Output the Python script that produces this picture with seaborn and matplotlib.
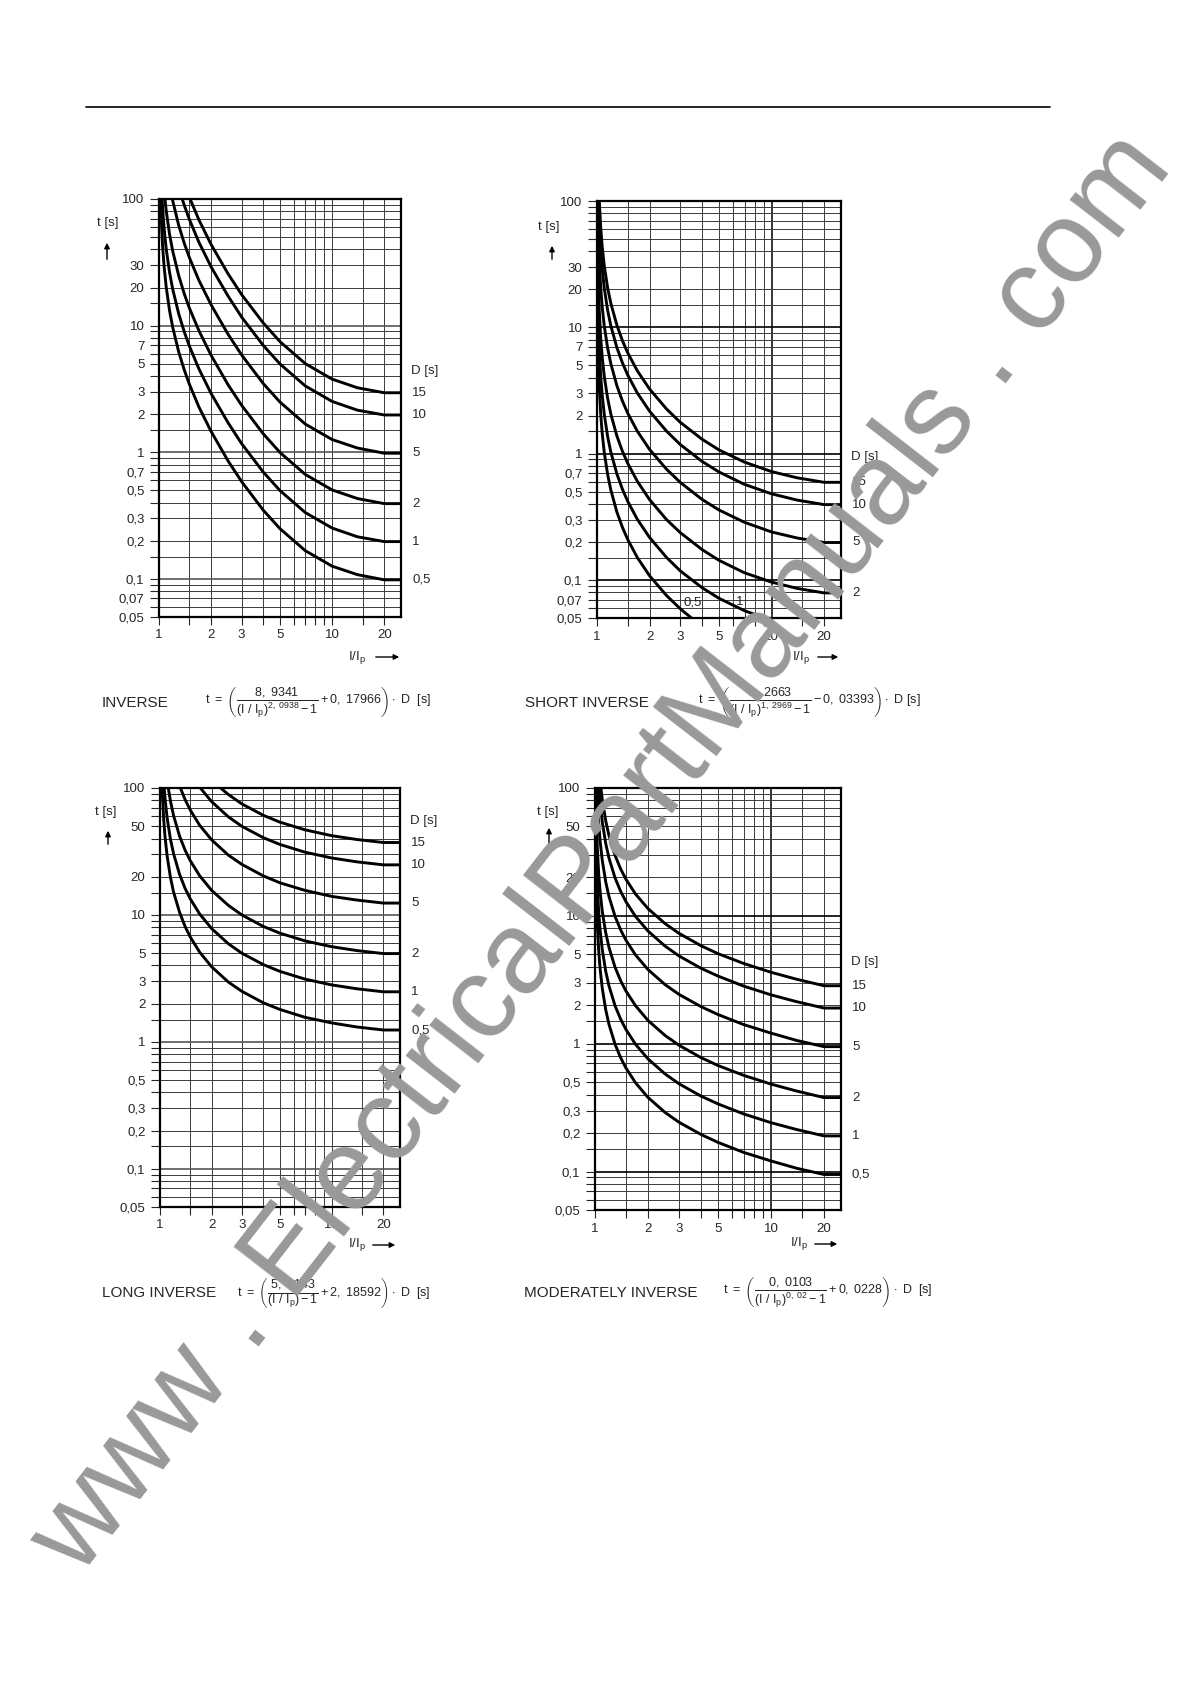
import matplotlib
matplotlib.use('Agg')
import matplotlib.pyplot as plt
import matplotlib.ticker as mticker
from matplotlib.lines import Line2D
from matplotlib.patches import FancyArrowPatch
import seaborn as sns
import pandas as pd

W, H = 1190, 1684

sns.set_style('white')
plt.rcParams['font.family'] = ['Liberation Sans', 'DejaVu Sans']
plt.rcParams['mathtext.fontset'] = 'custom'
plt.rcParams['mathtext.rm'] = 'Liberation Sans'
plt.rcParams['mathtext.it'] = 'Liberation Sans'
plt.rcParams['mathtext.bf'] = 'Liberation Sans:bold'

# time multiplier settings, one curve each
D_VALUES = [0.5, 1, 2, 5, 10, 15]
D_LABELS = ['0,5', '1', '2', '5', '10', '15']

# INVERSE (I/Ip, t[s]) for D = 0.5 ... 15
INV_X = [
    [1.021, 1.03, 1.05, 1.07, 1.1, 1.15, 1.2, 1.3, 1.4, 1.5, 1.7, 2, 2.5, 3, 4, 5, 7, 10, 14, 20, 25],
    [1.042, 1.05, 1.07, 1.1, 1.15, 1.2, 1.3, 1.4, 1.5, 1.7, 2, 2.5, 3, 4, 5, 7, 10, 14, 20, 25],
    [1.082, 1.1, 1.15, 1.2, 1.3, 1.4, 1.5, 1.7, 2, 2.5, 3, 4, 5, 7, 10, 14, 20, 25],
    [1.195, 1.2, 1.3, 1.4, 1.5, 1.7, 2, 2.5, 3, 4, 5, 7, 10, 14, 20, 25],
    [1.362, 1.4, 1.5, 1.7, 2, 2.5, 3, 4, 5, 7, 10, 14, 20, 25],
    [1.512, 1.7, 2, 2.5, 3, 4, 5, 7, 10, 14, 20, 25],
]
INV_T = [
    [100, 70.1, 41.6, 29.4, 20.3, 13.2, 9.7, 6.19, 4.46, 3.43, 2.28, 1.46, 0.859, 0.587, 0.349, 0.249, 0.167, 0.126, 0.108, 0.0983, 0.0983],
    [100, 83.2, 58.9, 40.6, 26.5, 19.4, 12.4, 8.91, 6.86, 4.56, 2.91, 1.72, 1.17, 0.698, 0.498, 0.334, 0.252, 0.215, 0.197, 0.197],
    [100, 81.3, 52.9, 38.8, 24.8, 17.8, 13.7, 9.13, 5.83, 3.43, 2.35, 1.40, 0.996, 0.668, 0.504, 0.431, 0.393, 0.393],
    [100, 97.0, 61.9, 44.6, 34.3, 22.8, 14.6, 8.59, 5.87, 3.49, 2.49, 1.67, 1.26, 1.08, 0.983, 0.983],
    [100, 89.1, 68.6, 45.6, 29.1, 17.2, 11.7, 6.98, 4.98, 3.34, 2.52, 2.15, 1.97, 1.97],
    [100, 68.5, 43.7, 25.8, 17.6, 10.5, 7.47, 5.01, 3.78, 3.23, 2.95, 2.95],
]

# SHORT INVERSE
SINV_X = [
    [1.001, 1.005, 1.01, 1.02, 1.03, 1.05, 1.07, 1.1, 1.15, 1.2, 1.3, 1.4, 1.5, 1.7, 2, 2.5, 3, 3.475],
    [1.002, 1.005, 1.01, 1.02, 1.03, 1.05, 1.07, 1.1, 1.15, 1.2, 1.3, 1.4, 1.5, 1.7, 2, 2.5, 3, 4, 5, 7, 9.12],
    [1.004, 1.005, 1.01, 1.02, 1.03, 1.05, 1.07, 1.1, 1.15, 1.2, 1.3, 1.4, 1.5, 1.7, 2, 2.5, 3, 4, 5, 7, 10, 14, 20, 25],
    [1.0103, 1.02, 1.03, 1.05, 1.07, 1.1, 1.15, 1.2, 1.3, 1.4, 1.5, 1.7, 2, 2.5, 3, 4, 5, 7, 10, 14, 20, 25],
    [1.0205, 1.03, 1.05, 1.07, 1.1, 1.15, 1.2, 1.3, 1.4, 1.5, 1.7, 2, 2.5, 3, 4, 5, 7, 10, 14, 20, 25],
    [1.0308, 1.05, 1.07, 1.1, 1.15, 1.2, 1.3, 1.4, 1.5, 1.7, 2, 2.5, 3, 4, 5, 7, 10, 14, 20, 25],
]
SINV_T = [
    [100, 20.5, 10.3, 5.14, 3.42, 2.06, 1.47, 1.03, 0.687, 0.516, 0.345, 0.260, 0.209, 0.151, 0.108, 0.0754, 0.0592, 0.05],
    [100, 41.1, 20.5, 10.3, 6.85, 4.11, 2.94, 2.06, 1.37, 1.03, 0.691, 0.521, 0.419, 0.303, 0.217, 0.151, 0.118, 0.0868, 0.0716, 0.0571, 0.05],
    [100, 82.1, 41.1, 20.5, 13.7, 8.22, 5.88, 4.12, 2.75, 2.06, 1.38, 1.04, 0.838, 0.606, 0.433, 0.301, 0.237, 0.174, 0.143, 0.114, 0.0962, 0.0858, 0.0790, 0.0790],
    [100, 51.4, 34.2, 20.6, 14.7, 10.3, 6.87, 5.16, 3.45, 2.60, 2.09, 1.51, 1.08, 0.754, 0.592, 0.434, 0.358, 0.286, 0.240, 0.215, 0.198, 0.198],
    [100, 68.5, 41.1, 29.4, 20.6, 13.7, 10.3, 6.91, 5.21, 4.19, 3.03, 2.17, 1.51, 1.18, 0.868, 0.716, 0.571, 0.481, 0.429, 0.395, 0.395],
    [100, 61.7, 44.1, 30.9, 20.6, 15.5, 10.4, 7.81, 6.28, 4.54, 3.25, 2.26, 1.77, 1.30, 1.07, 0.857, 0.721, 0.644, 0.593, 0.593],
]

# LONG INVERSE
LINV_X = [
    [1.0284, 1.03, 1.05, 1.07, 1.1, 1.15, 1.2, 1.3, 1.4, 1.5, 1.7, 2, 2.5, 3, 4, 5, 7, 10, 14, 20, 25],
    [1.0574, 1.07, 1.1, 1.15, 1.2, 1.3, 1.4, 1.5, 1.7, 2, 2.5, 3, 4, 5, 7, 10, 14, 20, 25],
    [1.1174, 1.15, 1.2, 1.3, 1.4, 1.5, 1.7, 2, 2.5, 3, 4, 5, 7, 10, 14, 20, 25],
    [1.315, 1.4, 1.5, 1.7, 2, 2.5, 3, 4, 5, 7, 10, 14, 20, 25],
    [1.718, 2, 2.5, 3, 4, 5, 7, 10, 14, 20, 25],
    [2.253, 2.5, 3, 4, 5, 7, 10, 14, 20, 25],
]
LINV_T = [
    [100, 94.7, 57.2, 41.2, 29.2, 19.8, 15.1, 10.5, 8.11, 6.71, 5.10, 3.90, 2.96, 2.50, 2.03, 1.80, 1.56, 1.41, 1.31, 1.24, 1.24],
    [100, 82.4, 58.3, 39.6, 30.3, 20.9, 16.2, 13.4, 10.2, 7.80, 5.93, 4.99, 4.06, 3.59, 3.12, 2.81, 2.62, 2.48, 2.48],
    [100, 79.2, 60.5, 41.8, 32.4, 26.8, 20.4, 15.6, 11.9, 9.99, 8.11, 7.18, 6.24, 5.62, 5.24, 4.96, 4.96],
    [100, 81.1, 67.1, 51.0, 39.0, 29.6, 25.0, 20.3, 17.9, 15.6, 14.0, 13.1, 12.4, 12.4],
    [100, 78.0, 59.3, 49.9, 40.6, 35.9, 31.2, 28.1, 26.2, 24.8, 24.8],
    [100, 88.9, 74.9, 60.9, 53.8, 46.8, 42.1, 39.3, 37.2, 37.2],
]

# MODERATELY INVERSE
MINV_X = [
    [1.0026, 1.005, 1.01, 1.02, 1.03, 1.05, 1.07, 1.1, 1.15, 1.2, 1.3, 1.4, 1.5, 1.7, 2, 2.5, 3, 4, 5, 7, 10, 14, 20, 25],
    [1.0052, 1.01, 1.02, 1.03, 1.05, 1.07, 1.1, 1.15, 1.2, 1.3, 1.4, 1.5, 1.7, 2, 2.5, 3, 4, 5, 7, 10, 14, 20, 25],
    [1.0104, 1.02, 1.03, 1.05, 1.07, 1.1, 1.15, 1.2, 1.3, 1.4, 1.5, 1.7, 2, 2.5, 3, 4, 5, 7, 10, 14, 20, 25],
    [1.0261, 1.03, 1.05, 1.07, 1.1, 1.15, 1.2, 1.3, 1.4, 1.5, 1.7, 2, 2.5, 3, 4, 5, 7, 10, 14, 20, 25],
    [1.0529, 1.07, 1.1, 1.15, 1.2, 1.3, 1.4, 1.5, 1.7, 2, 2.5, 3, 4, 5, 7, 10, 14, 20, 25],
    [1.0805, 1.1, 1.15, 1.2, 1.3, 1.4, 1.5, 1.7, 2, 2.5, 3, 4, 5, 7, 10, 14, 20, 25],
]
MINV_T = [
    [100, 51.6, 25.9, 13.0, 8.72, 5.29, 3.81, 2.71, 1.85, 1.42, 0.99, 0.774, 0.644, 0.494, 0.38, 0.29, 0.243, 0.195, 0.169, 0.141, 0.121, 0.106, 0.0948, 0.0948],
    [100, 51.8, 26.0, 17.4, 10.6, 7.63, 5.42, 3.70, 2.84, 1.98, 1.55, 1.29, 0.988, 0.761, 0.58, 0.486, 0.389, 0.338, 0.282, 0.241, 0.213, 0.19, 0.19],
    [100, 52.0, 34.9, 21.1, 15.3, 10.8, 7.40, 5.68, 3.96, 3.10, 2.58, 1.98, 1.52, 1.16, 0.973, 0.778, 0.675, 0.565, 0.483, 0.426, 0.379, 0.379],
    [100, 87.2, 52.9, 38.1, 27.1, 18.5, 14.2, 9.90, 7.74, 6.44, 4.94, 3.80, 2.90, 2.43, 1.95, 1.69, 1.41, 1.21, 1.06, 0.948, 0.948],
    [100, 76.3, 54.2, 37.0, 28.4, 19.8, 15.5, 12.9, 9.88, 7.61, 5.80, 4.86, 3.89, 3.38, 2.82, 2.41, 2.13, 1.90, 1.90],
    [100, 81.3, 55.5, 42.6, 29.7, 23.2, 19.3, 14.8, 11.4, 8.70, 7.30, 5.84, 5.06, 4.24, 3.62, 3.19, 2.84, 2.84],
]

# axis tick labels
YLAB_A = [100, 30, 20, 10, 7, 5, 3, 2, 1, 0.7, 0.5, 0.3, 0.2, 0.1, 0.07, 0.05]
YLAB_B = [100, 50, 20, 10, 5, 3, 2, 1, 0.5, 0.3, 0.2, 0.1, 0.05]
XLAB = [1, 2, 3, 5, 10, 20]

GRID_X = [1.5, 2, 3, 4, 5, 6, 7, 8, 9, 10, 15, 20]
GRID_Y = [0.05, 0.06, 0.07, 0.08, 0.09, 0.1, 0.15, 0.2, 0.3, 0.4, 0.5, 0.6, 0.7, 0.8, 0.9,
          1, 1.5, 2, 3, 4, 5, 6, 7, 8, 9, 10, 15, 20, 30, 40, 50, 60, 70, 80, 90, 100]


def px_rect(x0, y0, x1, y1):
    return [x0 / W, 1 - y1 / H, (x1 - x0) / W, (y1 - y0) / H]


def fx(x):
    return x / W


def fy(y):
    return 1 - y / H


def fmt(v):
    return ('%g' % v).replace('.', ',')


def to_frame(xs, ts):
    rows = []
    for D, xl, tl in zip(D_VALUES, xs, ts):
        for x, t in zip(xl, tl):
            rows.append({'x': x, 't': t, 'D': D})
    return pd.DataFrame(rows)


def setup(ax, ylab, dark):
    ax.set_xscale('log')
    ax.set_yscale('log')
    ax.set_xlim(1, 25)
    ax.set_ylim(0.05, 100)
    for gx in GRID_X:
        if dark and gx == 10:
            ax.axvline(gx, color='black', lw=1.1, zorder=1)
        else:
            ax.axvline(gx, color='#3a3a3a', lw=0.7, zorder=1)
    for gy in GRID_Y:
        if gy in (0.1, 1, 10):
            ax.axhline(gy, color='black' if dark else '#555555', lw=1.2, zorder=1)
        else:
            ax.axhline(gy, color='#3a3a3a', lw=0.7, zorder=1)
    ax.yaxis.set_major_locator(mticker.FixedLocator(GRID_Y))
    ax.yaxis.set_major_formatter(mticker.FixedFormatter([fmt(v) if v in ylab else '' for v in GRID_Y]))
    ax.yaxis.set_minor_locator(mticker.NullLocator())
    xt = [1] + GRID_X
    ax.xaxis.set_major_locator(mticker.FixedLocator(xt))
    ax.xaxis.set_major_formatter(mticker.FixedFormatter([fmt(v) if v in XLAB else '' for v in xt]))
    ax.xaxis.set_minor_locator(mticker.NullLocator())
    ax.tick_params(axis='y', direction='out', length=6.5, width=0.8, pad=4, labelsize=9.5, left=True)
    ax.tick_params(axis='x', direction='out', length=6, width=0.8, pad=3, labelsize=9.5, bottom=True)
    for s in ax.spines.values():
        s.set_color('black')
        s.set_linewidth(1.6)
        s.set_visible(True)


fig = plt.figure(figsize=(W / 100, H / 100), dpi=100)

charts = [
    ('inv', INV_X, INV_T, (159, 199, 401, 617), YLAB_A, False, 22),
    ('sinv', SINV_X, SINV_T, (597, 201, 841, 618), YLAB_A, True, 25),
    ('linv', LINV_X, LINV_T, (160, 788, 400, 1207), YLAB_B, False, 22),
    ('minv', MINV_X, MINV_T, (595, 788, 841, 1210), YLAB_B, True, 24),
]

for name, xs, ts, box, ylab, dark, hdr in charts:
    ax = fig.add_axes(px_rect(*box))
    df = to_frame(xs, ts)
    setup(ax, ylab, dark)
    sns.lineplot(data=df, x='x', y='t', units='D', estimator=None, sort=False,
                 color='black', lw=2.1, ax=ax, legend=False, zorder=3)
    ax.set_xlabel('')
    ax.set_ylabel('')
    for D, lab, xl, tl in zip(D_VALUES, D_LABELS, xs, ts):
        if xl[-1] < 25:
            continue
        ax.annotate(lab, xy=(1, tl[-1]), xycoords=('axes fraction', 'data'),
                    xytext=(11, 0), textcoords='offset pixels', va='center', ha='left', fontsize=9.5)
    ax.annotate('D [s]', xy=(1, ts[-1][-1]), xycoords=('axes fraction', 'data'),
                xytext=(10, hdr), textcoords='offset pixels', va='center', ha='left', fontsize=9.5)
    if name == 'sinv':
        ax.text(3.55, 0.066, '0,5', fontsize=9.5, ha='center', va='center')
        ax.text(6.6, 0.067, '1', fontsize=9.5, ha='center', va='center')

# axis captions and arrows
ylbl = [((97, 223), (107, 262), (107, 240)), ((538, 227), (552, 262), (552, 243)),
        ((95, 812), (108, 847), (108, 828)), ((537, 812), (549, 847), (549, 825))]
for (tx, ty), (ax0, ay0), (ax1, ay1) in ylbl:
    fig.text(fx(tx), fy(ty), 't [s]', fontsize=9.5, ha='left', va='center')
    fig.add_artist(FancyArrowPatch((fx(ax0), fy(ay0)), (fx(ax1), fy(ay1)), transform=fig.transFigure,
                                   arrowstyle='-|>', mutation_scale=8, lw=1, color='black'))
xlbl = [((348, 657), (373, 402)), ((792, 657), (815, 841)),
        ((348, 1245), (370, 398)), ((790, 1244), (812, 840))]
for (tx, ty), (a0, a1) in xlbl:
    fig.text(fx(tx), fy(ty), r'I/I$_\mathrm{p}$', fontsize=9.5, ha='left', va='center')
    fig.add_artist(FancyArrowPatch((fx(a0), fy(ty)), (fx(a1), fy(ty)), transform=fig.transFigure,
                                   arrowstyle='-|>', mutation_scale=8, lw=1, color='black'))

# headings and formulas
fig.text(fx(102), fy(703), 'INVERSE', fontsize=11, ha='left', va='center')
fig.text(fx(525), fy(703), 'SHORT INVERSE', fontsize=11, ha='left', va='center')
fig.text(fx(102), fy(1293), 'LONG INVERSE', fontsize=11, ha='left', va='center')
fig.text(fx(524), fy(1293), 'MODERATELY INVERSE', fontsize=11, ha='left', va='center')

f1 = r'$\mathrm{t\ =\ }\left(\dfrac{8,\ 9341}{(\mathrm{I\ /\ I}_{\mathrm{p}})^{2,\ 0938}-1}+0,\ 17966\right)\cdot\mathrm{\ D\ \ [s]}$'
f2 = r'$\mathrm{t\ =\ }\left(\dfrac{0,\ 2663}{(\mathrm{I\ /\ I}_{\mathrm{p}})^{1,\ 2969}-1}-0,\ 03393\right)\cdot\mathrm{\ D\ [s]}$'
f3 = r'$\mathrm{t\ =\ }\left(\dfrac{5,\ 6143}{(\mathrm{I\ /\ I}_{\mathrm{p}})-1}+2,\ 18592\right)\cdot\mathrm{\ D\ \ [s]}$'
f4 = r'$\mathrm{t\ =\ }\left(\dfrac{0,\ 0103}{(\mathrm{I\ /\ I}_{\mathrm{p}})^{0,\ 02}-1}+0,\ 0228\right)\cdot\mathrm{\ D\ \ [s]}$'
fig.text(fx(205), fy(703), f1, fontsize=9, ha='left', va='center')
fig.text(fx(698), fy(703), f2, fontsize=9, ha='left', va='center')
fig.text(fx(237), fy(1293), f3, fontsize=9, ha='left', va='center')
fig.text(fx(723), fy(1293), f4, fontsize=9, ha='left', va='center')

# rule at the top of the page
fig.add_artist(Line2D([fx(86), fx(1050)], [fy(107), fy(107)], color='black', lw=1.2))

# watermark
fig.text(fx(603), fy(854), 'www . ElectricalPartManuals . com', rotation=52.2, rotation_mode='anchor',
         fontsize=83.5, color='#999999', ha='center', va='center', zorder=10)

fig.savefig('out.png', dpi=100)
